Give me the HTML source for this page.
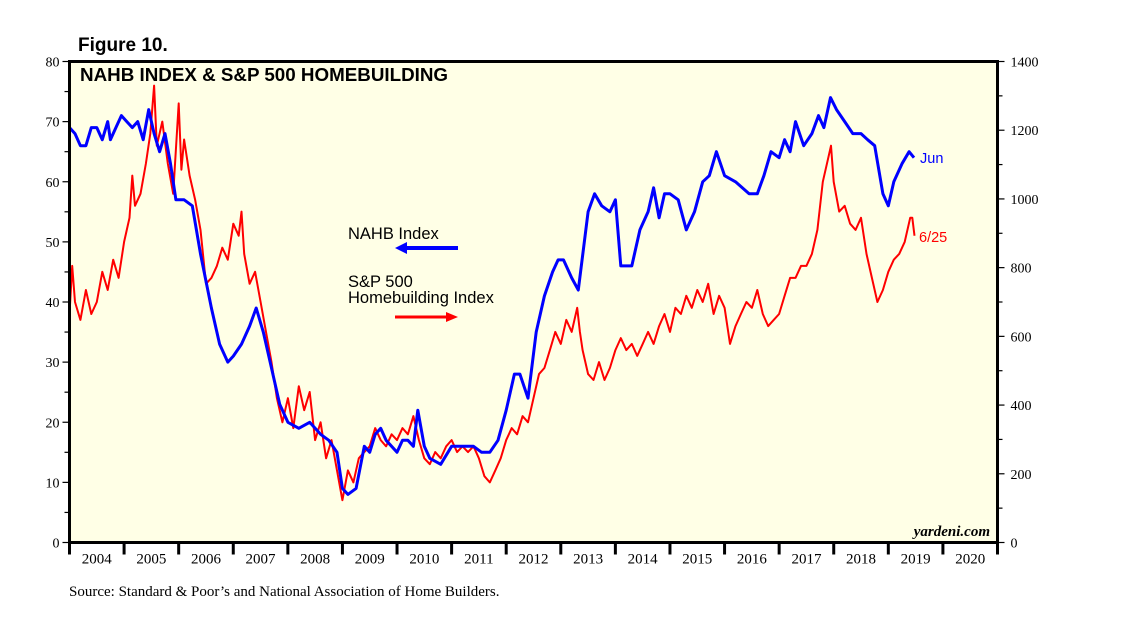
<!DOCTYPE html>
<html><head><meta charset="utf-8">
<style>
html,body{margin:0;padding:0;background:#fff;}
svg{display:block;}
.sans{font-family:"Liberation Sans",sans-serif;}
.serif{font-family:"Liberation Serif",serif;}
</style></head>
<body>
<svg id="chart" width="1138" height="621" viewBox="0 0 1138 621" xmlns="http://www.w3.org/2000/svg">
<text x="78" y="51" class="sans" font-size="19" font-weight="bold">Figure 10.</text>
<rect x="69.5" y="61.5" width="928" height="481" fill="#ffffe6"/>
<g id="axes"></g>
<g id="series"></g>
<rect x="69.5" y="61.5" width="928" height="481" fill="none" stroke="#000" stroke-width="3"/>
<text x="80" y="81" class="sans" font-size="18.8" font-weight="bold">NAHB INDEX &amp; S&amp;P 500 HOMEBUILDING</text>
<text x="348" y="239" class="sans" font-size="16.5">NAHB Index</text>
<path d="M458 248 L403 248" stroke="#0000ff" stroke-width="4"/>
<path d="M395 248 L407 242 L407 254 Z" fill="#0000ff"/>
<text x="348" y="287" class="sans" font-size="16.5">S&amp;P 500</text>
<text x="348" y="303" class="sans" font-size="16.5">Homebuilding Index</text>
<path d="M395 317 L450 317" stroke="#ff0000" stroke-width="3"/>
<path d="M458 317 L446 312 L446 322 Z" fill="#ff0000"/>
<text x="920" y="163" class="sans" font-size="14.5" fill="#0000ff">Jun</text>
<text x="919" y="242" class="sans" font-size="14.5" fill="#ff0000">6/25</text>
<text x="990" y="536" class="serif" font-size="15" font-style="italic" font-weight="bold" text-anchor="end">yardeni.com</text>
<text x="69" y="596" class="serif" font-size="15">Source: Standard &amp; Poor’s and National Association of Home Builders.</text>
</svg>
<script>
const nahbDates=[2004.0,2004.1,2004.2,2004.3,2004.4,2004.5,2004.6,2004.7,2004.75,2004.85,2004.95,2005.05,2005.15,2005.25,2005.35,2005.45,2005.55,2005.65,2005.75,2005.85,2005.95,2006.1,2006.25,2006.4,2006.6,2006.75,2006.9,2007.0,2007.15,2007.3,2007.42,2007.55,2007.7,2007.85,2008.0,2008.2,2008.4,2008.6,2008.75,2008.9,2009.0,2009.1,2009.25,2009.4,2009.5,2009.6,2009.7,2009.8,2009.9,2010.0,2010.1,2010.2,2010.3,2010.38,2010.5,2010.6,2010.8,2011.0,2011.2,2011.4,2011.55,2011.7,2011.85,2012.0,2012.15,2012.25,2012.4,2012.55,2012.7,2012.85,2012.95,2013.05,2013.2,2013.32,2013.5,2013.62,2013.75,2013.9,2014.0,2014.1,2014.3,2014.45,2014.6,2014.7,2014.8,2014.9,2015.0,2015.15,2015.3,2015.45,2015.6,2015.72,2015.85,2016.0,2016.2,2016.45,2016.6,2016.72,2016.85,2017.0,2017.1,2017.2,2017.3,2017.45,2017.6,2017.72,2017.82,2017.94,2018.05,2018.2,2018.35,2018.5,2018.62,2018.75,2018.9,2019.0,2019.1,2019.25,2019.38,2019.47];
const nahbValues=[69,68,66,66,69,69,67,70,67,69,71,70,69,70,67,72,68,65,68,63,57,57,56,48,39,33,30,31,33,36,39,35,29,23,20,19,20,18,17,15,9,8,9,16,15,18,19,17,16,15,17,17,16,22,16,14,13,16,16,16,15,15,17,22,28,28,24,35,41,45,47,47,44,42,55,58,56,55,57,46,46,52,55,59,54,58,58,57,52,55,60,61,65,61,60,58,58,61,65,64,67,65,70,66,68,71,69,74,72,70,68,68,67,66,58,56,60,63,65,64];
const spDates=[2004.0,2004.05,2004.1,2004.2,2004.3,2004.4,2004.5,2004.6,2004.7,2004.8,2004.9,
2005.0,2005.1,2005.15,2005.2,2005.3,2005.4,2005.48,2005.55,2005.6,2005.7,2005.8,2005.9,
2006.0,2006.05,2006.1,2006.2,2006.3,2006.4,2006.5,2006.6,2006.7,2006.8,2006.9,
2007.0,2007.1,2007.15,2007.2,2007.3,2007.4,2007.5,2007.6,2007.7,2007.8,2007.9,
2008.0,2008.1,2008.2,2008.3,2008.4,2008.5,2008.6,2008.7,2008.8,2008.9,
2009.0,2009.1,2009.2,2009.3,2009.4,2009.5,2009.6,2009.7,2009.8,2009.9,
2010.0,2010.1,2010.2,2010.3,2010.4,2010.5,2010.6,2010.7,2010.8,2010.9,
2011.0,2011.1,2011.2,2011.3,2011.4,2011.5,2011.6,2011.7,2011.8,2011.9,
2012.0,2012.1,2012.2,2012.3,2012.4,2012.5,2012.6,2012.7,2012.8,2012.9,
2013.0,2013.1,2013.2,2013.3,2013.35,2013.4,2013.5,2013.6,2013.7,2013.8,2013.9,
2014.0,2014.1,2014.2,2014.3,2014.4,2014.5,2014.6,2014.7,2014.8,2014.9,
2015.0,2015.1,2015.2,2015.3,2015.4,2015.5,2015.6,2015.7,2015.8,2015.9,
2016.0,2016.1,2016.2,2016.3,2016.4,2016.5,2016.6,2016.7,2016.8,2016.9,
2017.0,2017.1,2017.2,2017.3,2017.4,2017.5,2017.6,2017.7,2017.75,2017.8,2017.9,2017.95,
2018.0,2018.1,2018.2,2018.3,2018.4,2018.5,2018.6,2018.7,2018.8,2018.9,
2019.0,2019.1,2019.2,2019.3,2019.4,2019.44,2019.48];
const spValues=[665,805,700,648,735,665,700,788,735,823,770,
875,945,1068,980,1015,1103,1190,1330,1155,1225,1103,1015,
1278,1085,1173,1068,998,910,753,770,805,858,823,
928,893,963,840,753,788,700,613,525,420,350,
420,333,455,385,438,298,350,245,298,210,
123,210,175,245,263,280,333,298,280,315,
298,333,315,368,298,245,228,263,245,280,
298,263,280,263,280,245,193,175,210,245,
298,333,315,368,350,420,490,508,560,613,
578,648,613,683,613,560,490,473,525,473,508,
560,595,560,578,543,578,613,578,630,665,
613,683,665,718,683,735,700,753,665,718,
683,578,630,665,700,683,735,665,630,648,
665,718,770,770,805,805,840,910,980,1050,1120,1155,
1050,963,980,928,910,945,840,770,700,735,
788,823,840,875,945,945,893];
const leftTicks=[0,10,20,30,40,50,60,70,80];
const rightTicks=[0,200,400,600,800,1000,1200,1400];
const yearLabels=[2004,2005,2006,2007,2008,2009,2010,2011,2012,2013,2014,2015,2016,2017,2018,2019,2020];

const X0=69.5,X1=997.5,Y0=542.5,Y1=61.5;
const xS=d=>X0+(d-2004)*(X1-X0)/17;
const yL=v=>Y0-v*(Y0-Y1)/80;
const yR=v=>Y0-v*(Y0-Y1)/1400;
const NS="http://www.w3.org/2000/svg";
const axes=document.getElementById('axes'),series=document.getElementById('series');
function mk(tag,attrs,parent,txt){const e=document.createElementNS(NS,tag);for(const k in attrs)e.setAttribute(k,attrs[k]);if(txt!==undefined)e.textContent=txt;parent.appendChild(e);return e;}

for(let v=0;v<=80;v+=5){
  const t=mk('line',{x1:X0-(v%10===0?7:5),x2:X0,y1:yL(v),y2:yL(v),stroke:'#000','stroke-width':1.2},axes);
  
  
}
leftTicks.forEach(v=>{
  const t=mk('text',{x:X0-10,y:yL(v)+5,'text-anchor':'end','font-size':14,class:'serif'},axes,String(v));
  
  
});
for(let v=0;v<=1400;v+=100){
  const t=mk('line',{x1:X1,x2:X1+(v%200===0?7:5),y1:yR(v),y2:yR(v),stroke:'#000','stroke-width':1.2},axes);
  
  
}
rightTicks.forEach(v=>{
  const t=mk('text',{x:X1+13,y:yR(v)+5,'font-size':14,class:'serif'},axes,String(v));
  
  
});
for(let y=2004;y<=2021;y++){
  const t=mk('line',{x1:xS(y),x2:xS(y),y1:Y0,y2:Y0+12,stroke:'#000','stroke-width':3},axes);
  
  
}
yearLabels.forEach(y=>{
  const t=mk('text',{x:xS(y+0.5),y:Y0+21,'text-anchor':'middle','font-size':15,class:'serif'},axes,String(y));
  
  
});
const spPath=mk('path',{d:spDates.map((d,i)=>(i?'L':'M')+xS(d).toFixed(1)+' '+yR(spValues[i]).toFixed(1)).join(' '),fill:'none',stroke:'#ff0000','stroke-width':2,'stroke-linejoin':'round'},series);


const nPath=mk('path',{d:nahbDates.map((d,i)=>(i?'L':'M')+xS(d).toFixed(1)+' '+yL(nahbValues[i]).toFixed(1)).join(' '),fill:'none',stroke:'#0000ff','stroke-width':3,'stroke-linejoin':'round'},series);


</script>
</body></html>
